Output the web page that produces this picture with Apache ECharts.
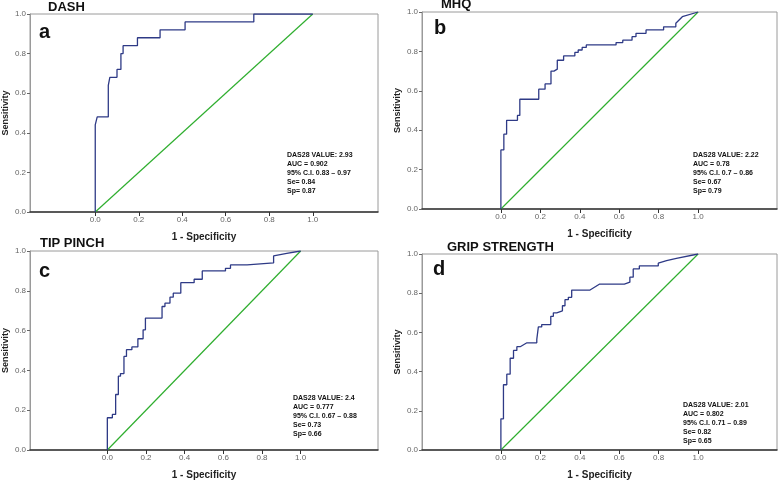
<!DOCTYPE html>
<html><head><meta charset="utf-8">
<script src="https://cdn.jsdelivr.net/npm/echarts@6/dist/echarts.min.js"></script>
<style>html,body{margin:0;padding:0;background:#fff}#c{width:778px;height:481px}</style>
</head><body><div id="c"></div>
<script>
// Panel titles, letters and annotation text
const panelTitles = ['DASH', 'MHQ', 'TIP PINCH', 'GRIP STRENGTH'];
const panelLetters = ['a', 'b', 'c', 'd'];
const panelStats = [
  ['DAS28 VALUE: 2.93', 'AUC = 0.902', '95% C.I. 0.83 \u2013 0.97', 'Se= 0.84', 'Sp= 0.87'],
  ['DAS28 VALUE: 2.22', 'AUC = 0.78', '95% C.I. 0.7 \u2013 0.86', 'Se= 0.67', 'Sp= 0.79'],
  ['DAS28 VALUE: 2.4', 'AUC = 0.777', '95% C.I. 0.67 \u2013 0.88', 'Se= 0.73', 'Sp= 0.66'],
  ['DAS28 VALUE: 2.01', 'AUC = 0.802', '95% C.I. 0.71 \u2013 0.89', 'Se= 0.82', 'Sp= 0.65']
];
const xTicks = [0, 0.2, 0.4, 0.6, 0.8, 1.0];
const refFpr = [0, 1];
const refTpr = [0, 1];

// ROC curves (1 - specificity, sensitivity)
const fprA = [0,0,0.009,0.009,0.06,0.06,0.067,0.067,0.10,0.10,0.118,0.118,0.128,0.128,0.194,0.194,0.298,0.298,0.413,0.413,0.729,0.729,1.0];
const tprA = [0,0.44,0.44,0.48,0.48,0.64,0.64,0.68,0.68,0.72,0.72,0.80,0.80,0.84,0.84,0.88,0.88,0.92,0.92,0.96,0.96,1.0,1.0];

const fprB = [0,0,0.015,0.015,0.029,0.029,0.084,0.084,0.096,0.096,0.192,0.192,0.224,0.224,0.254,0.254,0.269,0.269,0.286,0.286,0.318,0.318,0.375,0.375,0.392,0.392,0.412,0.412,0.433,0.433,0.584,0.584,0.618,0.618,0.665,0.665,0.685,0.685,0.736,0.736,0.825,0.825,0.887,0.887,0.92,1.0];
const tprB = [0,0.30,0.30,0.38,0.38,0.45,0.45,0.475,0.475,0.557,0.557,0.608,0.608,0.635,0.635,0.70,0.70,0.71,0.71,0.755,0.755,0.777,0.777,0.795,0.795,0.807,0.807,0.82,0.82,0.833,0.833,0.845,0.845,0.857,0.857,0.875,0.875,0.892,0.892,0.909,0.909,0.925,0.925,0.943,0.976,1.0];

const fprC = [0,0,0.026,0.026,0.043,0.043,0.057,0.057,0.068,0.068,0.086,0.086,0.099,0.099,0.127,0.127,0.158,0.158,0.185,0.185,0.197,0.197,0.283,0.283,0.298,0.298,0.324,0.324,0.341,0.341,0.38,0.38,0.449,0.449,0.491,0.491,0.611,0.611,0.637,0.637,0.723,0.723,0.86,0.86,0.928,1.0];
const tprC = [0,0.162,0.162,0.179,0.179,0.279,0.279,0.371,0.371,0.384,0.384,0.47,0.47,0.504,0.504,0.518,0.518,0.559,0.559,0.604,0.604,0.663,0.663,0.721,0.721,0.738,0.738,0.768,0.768,0.788,0.788,0.841,0.841,0.858,0.858,0.90,0.90,0.913,0.913,0.93,0.93,0.94,0.94,0.975,0.988,1.0];

const fprD = [0,0,0.013,0.013,0.030,0.030,0.047,0.047,0.064,0.064,0.081,0.081,0.098,0.098,0.132,0.182,0.182,0.19,0.19,0.207,0.207,0.253,0.253,0.266,0.266,0.283,0.283,0.312,0.312,0.325,0.325,0.342,0.342,0.359,0.359,0.452,0.499,0.626,0.626,0.654,0.654,0.671,0.671,0.702,0.702,0.798,0.798,0.84,0.89,1.0];
const tprD = [0,0.159,0.159,0.333,0.333,0.387,0.387,0.468,0.468,0.508,0.508,0.527,0.527,0.535,0.547,0.547,0.564,0.564,0.628,0.628,0.64,0.64,0.682,0.682,0.70,0.70,0.71,0.71,0.736,0.736,0.767,0.767,0.779,0.779,0.816,0.816,0.846,0.846,0.856,0.856,0.882,0.882,0.924,0.924,0.939,0.939,0.953,0.966,0.978,1.0];

const curves = [[fprA, tprA], [fprB, tprB], [fprC, tprC], [fprD, tprD]];

// layout
const grids = [
  {left: 29, top: 14, width: 349, height: 198},
  {left: 422, top: 12, width: 355, height: 197},
  {left: 29, top: 251, width: 349, height: 200},
  {left: 422, top: 254, width: 355, height: 197}
];
const xRanges = [[-0.3, 1.3], [-0.4, 1.4], [-0.4, 1.4], [-0.4, 1.4]];
const titlePos = [[48, 1], [441, -2], [40, 237], [447, 241]];
const letterPos = [[39, 22], [434, 18], [39, 261], [433, 259]];
const statPos = [[287, 151], [693, 151], [293, 394], [683, 401]];

const FONT = '"Liberation Sans", Arial, sans-serif';
const zip = (a, b) => a.map((v, i) => [v, b[i]]);

const option = {
  animation: false,
  backgroundColor: '#fff',
  grid: grids.map(g => Object.assign({show: true, borderColor: '#9a9a9a', borderWidth: 1, backgroundColor: 'transparent'}, g)),
  xAxis: grids.map((g, i) => ({
    type: 'value', gridIndex: i, min: xRanges[i][0], max: xRanges[i][1],
    name: '1 - Specificity', nameLocation: 'middle', nameGap: 20,
    nameTextStyle: {fontFamily: FONT, fontWeight: 'bold', fontSize: 10, color: '#222'},
    axisLine: {show: true, onZero: false, lineStyle: {color: '#333', width: 1.5}},
    axisTick: {show: true, length: 4, lineStyle: {color: '#333'}, customValues: xTicks},
    axisLabel: {fontFamily: FONT, fontSize: 8, color: '#666', margin: 4, customValues: xTicks,
      formatter: v => v.toFixed(1)},
    splitLine: {show: false}
  })),
  yAxis: grids.map((g, i) => ({
    type: 'value', gridIndex: i, min: 0, max: 1, interval: 0.2,
    name: 'Sensitivity', nameLocation: 'middle', nameGap: 20,
    nameTextStyle: {fontFamily: FONT, fontWeight: 'bold', fontSize: 9, color: '#222'},
    axisLine: {show: true, onZero: false, lineStyle: {color: '#9a9a9a'}},
    axisTick: {show: true, length: 3, lineStyle: {color: '#666'}},
    axisLabel: {fontFamily: FONT, fontSize: 8, color: '#666', margin: 4,
      formatter: v => v.toFixed(1)},
    splitLine: {show: false}
  })),
  series: [].concat(
    grids.map((g, i) => ({
      type: 'line', xAxisIndex: i, yAxisIndex: i, data: zip(refFpr, refTpr),
      symbol: 'none', color: '#2fae2f', lineStyle: {color: '#2fae2f', width: 1.2}, z: 2
    })),
    curves.map((c, i) => ({
      type: 'line', xAxisIndex: i, yAxisIndex: i, data: zip(c[0], c[1]),
      symbol: 'none', color: '#2e3a86', lineStyle: {color: '#2e3a86', width: 1.3}, z: 3
    }))
  ),
  graphic: [].concat(
    panelTitles.map((t, i) => ({
      type: 'text', left: titlePos[i][0], top: titlePos[i][1],
      style: {text: t, font: 'bold 13px ' + FONT, fill: '#111'}
    })),
    panelLetters.map((t, i) => ({
      type: 'text', left: letterPos[i][0], top: letterPos[i][1],
      style: {text: t, font: 'bold 20px ' + FONT, fill: '#111'}
    })),
    panelStats.map((lines, i) => ({
      type: 'text', left: statPos[i][0], top: statPos[i][1],
      style: {text: lines.join('\n'), font: 'bold 7px ' + FONT, lineHeight: 9, fill: '#111'}
    }))
  )
};
echarts.init(document.getElementById('c'), null, {renderer: 'canvas'}).setOption(option);
</script>
</body></html>
